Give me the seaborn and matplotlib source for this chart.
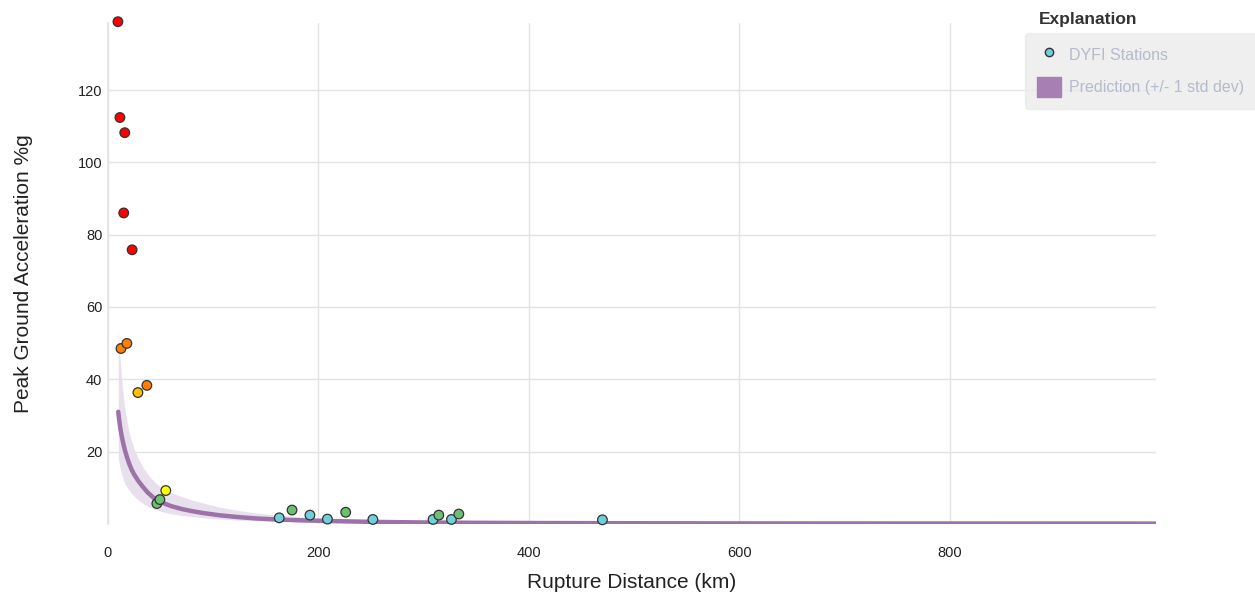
import numpy as np
import pandas as pd
import seaborn as sns
import matplotlib.pyplot as plt
from matplotlib.lines import Line2D
from matplotlib.patches import Patch

sns.set_theme(style="whitegrid")
plt.rcParams["font.family"] = ["Liberation Sans", "DejaVu Sans"]

# DYFI stations: rupture distance (km), PGA (%g), intensity colour class
station_dist = [9.5, 11.4, 16, 15, 23, 12.4, 18, 37, 28.5, 55, 46.5, 49.4,
                162.8, 175, 192, 208.6, 226, 251.8, 309, 314.5, 326.5, 333.5, 470]
station_pga = [138.9, 112.4, 108.2, 86, 75.8, 48.5, 49.9, 38.3, 36.3, 9.2, 5.6, 6.7,
               1.65, 3.8, 2.4, 1.3, 3.2, 1.2, 1.2, 2.4, 1.2, 2.7, 1.1]
station_class = ["red", "red", "red", "red", "red", "orange", "orange", "orange", "amber",
                 "yellow", "green", "green",
                 "cyan", "green", "cyan", "cyan", "green", "cyan", "cyan", "green", "cyan", "green", "cyan"]

# prediction (median and +/- 1 std dev)
pred_dist = [9.8, 10.5, 11.5, 12.5, 14, 16, 18, 20, 22.5, 25, 29, 33, 38, 45, 52, 60, 70, 80,
             90, 105, 122, 140, 160, 185, 217, 255, 296, 350, 400, 500, 600, 800, 996]
pred_pga = [31, 29.2, 27, 25.2, 23, 20.5, 18.5, 16.8, 15, 13.6, 11.8, 10.3, 8.6, 6.8, 5.8, 4.9, 4.1, 3.5,
            3.0, 2.4, 1.9, 1.5, 1.2, 0.95, 0.72, 0.52, 0.38, 0.28, 0.22, 0.15, 0.11, 0.08, 0.06]
pred_upper = [54, 50, 46, 42, 37, 32, 28.5, 25.5, 22.8, 20.6, 18, 15.8, 13.6, 11.4, 9.8, 8.6, 7.5, 6.6,
              5.8, 4.7, 3.8, 3.0, 2.4, 1.9, 1.45, 1.05, 0.78, 0.58, 0.45, 0.3, 0.22, 0.15, 0.12]
pred_lower = [18, 17, 15.5, 14.3, 12.8, 11.2, 10.2, 9.3, 8.4, 7.6, 6.5, 5.7, 4.8, 3.9, 3.3, 2.8, 2.3, 2.0,
              1.7, 1.35, 1.05, 0.85, 0.68, 0.53, 0.4, 0.3, 0.22, 0.16, 0.12, 0.08, 0.06, 0.04, 0.03]

palette = {"red": "#ff0000", "orange": "#ff8000", "amber": "#ffc000",
           "yellow": "#ffff00", "green": "#6cc070", "cyan": "#6fd0dc"}
line_color = "#9c72a8"
band_color = "#e9e0ee"

stations = pd.DataFrame({"dist": station_dist, "pga": station_pga, "cls": station_class})
pred = pd.DataFrame({"dist": pred_dist, "pga": pred_pga, "lo": pred_lower, "hi": pred_upper})

fig = plt.figure(figsize=(12.55, 6), dpi=100)
ax = fig.add_axes([0.086, 0.127, 0.835, 0.835])

ax.fill_between(pred["dist"], pred["lo"], pred["hi"], color=band_color, lw=0, zorder=1)
sns.lineplot(data=pred, x="dist", y="pga", color=line_color, lw=3.2, ax=ax, zorder=2)
sns.scatterplot(data=stations, x="dist", y="pga", hue="cls", palette=palette,
                s=48, edgecolor="#333333", linewidth=0.9, legend=False, ax=ax, zorder=3,
                clip_on=False)

ax.set_xlim(0, 996)
ax.set_ylim(0, 138.6)
ax.set_xticks([0, 200, 400, 600, 800])
ax.set_yticks([20, 40, 60, 80, 100, 120])
ax.grid(True, color="#e3e3e3", lw=1)
for side in ["top", "right", "bottom"]:
    ax.spines[side].set_visible(False)
ax.spines["left"].set_color("#e3e3e3")
ax.tick_params(length=0, labelsize=10.5, colors="#222222")
ax.tick_params(axis="x", pad=16)
ax.tick_params(axis="y", pad=4)
ax.set_xlabel("Rupture Distance (km)", fontsize=15, color="#222222", labelpad=9)
ax.set_ylabel("Peak Ground Acceleration %g", fontsize=15, color="#222222", labelpad=32)

handles = [
    Line2D([], [], marker="o", ls="", markersize=6, markerfacecolor="#6fd0dc",
           markeredgecolor="#333333", markeredgewidth=1),
    Patch(facecolor="#a77fb3", edgecolor="#a77fb3"),
]
leg = fig.legend(handles, ["DYFI Stations", "Prediction (+/- 1 std dev)"],
                 loc="upper left", bbox_to_anchor=(0.817, 0.945), frameon=True,
                 fontsize=11.5, handlelength=1.5, handleheight=1.5, borderpad=0.75,
                 labelspacing=0.8, handletextpad=0.5, borderaxespad=0)
leg.get_frame().set_facecolor("#ebebeb")
leg.get_frame().set_edgecolor("#ebebeb")
for t in leg.get_texts():
    t.set_color("#b3bbcc")
fig.text(0.828, 0.96, "Explanation", fontsize=12.5, fontweight="bold", color="#333333")

fig.savefig("out.png", dpi=100)
